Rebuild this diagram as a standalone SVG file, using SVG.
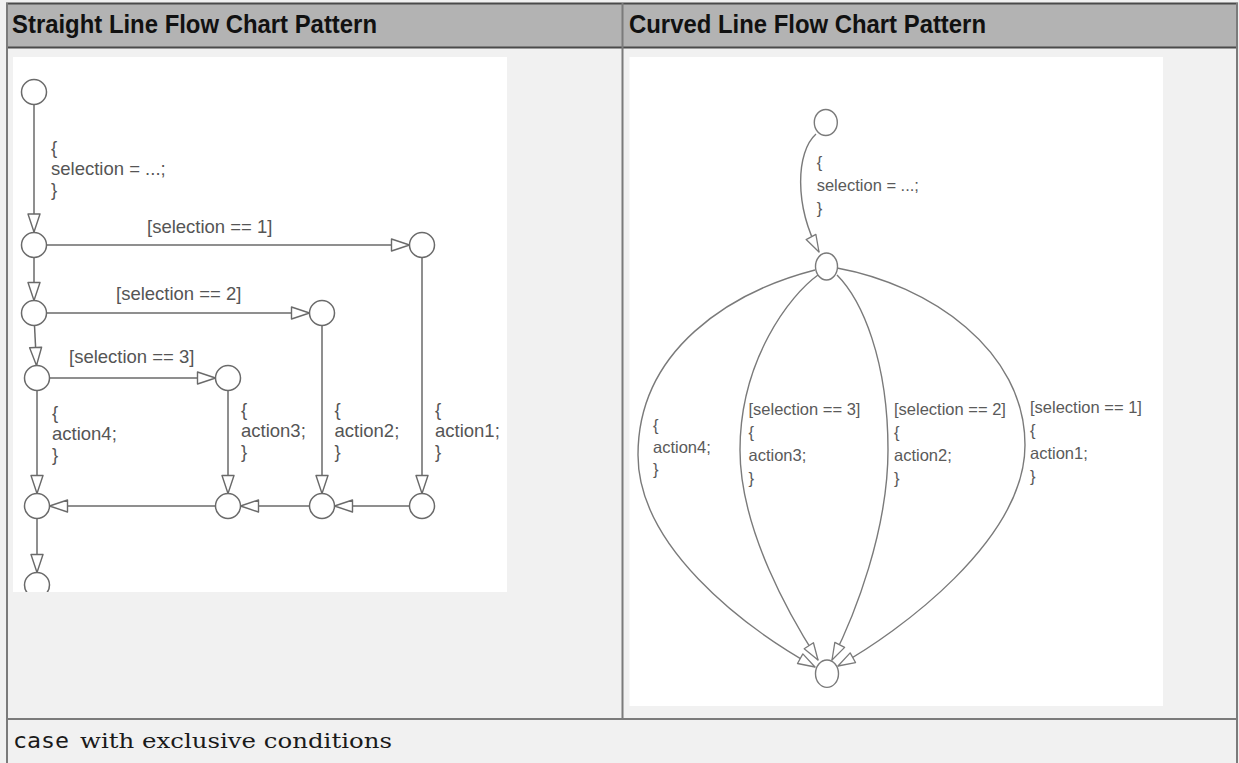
<svg xmlns="http://www.w3.org/2000/svg" width="1239" height="763" viewBox="0 0 1239 763">
<style>
.hdr{font-family:"Liberation Sans",Arial,sans-serif;font-weight:bold;font-size:25px;fill:#111}
.node{fill:#fff;stroke:#6a6a6a;stroke-width:1.5}
.rnode{fill:#fff;stroke:#7a7a7a;stroke-width:1.4}
.edge{fill:none;stroke:#6a6a6a;stroke-width:1.5}
.redge{fill:none;stroke:#7a7a7a;stroke-width:1.4}
.lbl{font-family:"Liberation Sans",Arial,sans-serif;font-size:18.5px;fill:#555}
.rlbl{font-family:"Liberation Sans",Arial,sans-serif;font-size:16.5px;fill:#5a5a5a}
.grid{stroke:#7b7b7b;stroke-width:2;fill:none}
.dark{stroke:#4a4a4a;stroke-width:2;fill:none}
</style>
<defs>
<marker id="arr" markerUnits="userSpaceOnUse" viewBox="-21 -8 23 16" refX="0" refY="0" markerWidth="23" markerHeight="16" orient="auto" overflow="visible">
<path d="M0,0 L-18,-6 L-18,6 Z" fill="#fff" stroke="#6a6a6a" stroke-width="1.4" stroke-linejoin="round"/>
</marker>
<marker id="rarr" markerUnits="userSpaceOnUse" viewBox="-21 -8 23 16" refX="0" refY="0" markerWidth="23" markerHeight="16" orient="auto" overflow="visible">
<path d="M0,0 L-17,-5.5 L-17,5.5 Z" fill="#fff" stroke="#7a7a7a" stroke-width="1.3" stroke-linejoin="round"/>
</marker>
<clipPath id="leftClip"><rect x="13" y="57" width="494" height="535"/></clipPath>
</defs>

<g id="table">
<rect x="0" y="0" width="1239" height="763" fill="#f1f1f1"/>
<rect x="7" y="4" width="1230" height="43" fill="#b3b3b3"/>
<rect x="13" y="57" width="494" height="535" fill="#ffffff"/>
<rect x="629.5" y="57" width="533.5" height="649" fill="#ffffff"/>
<line class="dark" x1="6" y1="3.5" x2="1238" y2="3.5"/>
<line class="dark" x1="6" y1="47.5" x2="1238" y2="47.5"/>
<line class="grid" x1="7" y1="3" x2="7" y2="763"/>
<line class="grid" x1="1237" y1="3" x2="1237" y2="763"/>
<line class="grid" x1="622.5" y1="3" x2="622.5" y2="719"/>
<line class="grid" x1="6" y1="719" x2="1238" y2="719"/>
<text class="hdr" x="12" y="33" textLength="365" lengthAdjust="spacingAndGlyphs">Straight Line Flow Chart Pattern</text>
<text class="hdr" x="629" y="33" textLength="357" lengthAdjust="spacingAndGlyphs">Curved Line Flow Chart Pattern</text>
<text x="13" y="748" font-family="'DejaVu Sans Mono','Liberation Mono',monospace" font-size="21" fill="#1a1a1a" textLength="56" lengthAdjust="spacingAndGlyphs">case</text>
<text x="80" y="748" font-family="'DejaVu Serif','Liberation Serif',serif" font-size="20" fill="#1a1a1a" textLength="312" lengthAdjust="spacingAndGlyphs">with exclusive conditions</text>
</g>

<g id="left-connectors" clip-path="url(#leftClip)">
<path class="edge" d="M34,105 L34,232" marker-end="url(#arr)"/>
<path class="edge" d="M46.5,245 L409.5,245" marker-end="url(#arr)"/>
<path class="edge" d="M34,257.5 L34,300.5" marker-end="url(#arr)"/>
<path class="edge" d="M46.5,313 L309.5,313" marker-end="url(#arr)"/>
<path class="edge" d="M34.5,325.5 L36.5,365.5" marker-end="url(#arr)"/>
<path class="edge" d="M49.5,378 L215.5,378" marker-end="url(#arr)"/>
<path class="edge" d="M37,390.5 L37,493.5" marker-end="url(#arr)"/>
<path class="edge" d="M228,390.5 L228,493.5" marker-end="url(#arr)"/>
<path class="edge" d="M322,325.5 L322,493.5" marker-end="url(#arr)"/>
<path class="edge" d="M422,257.5 L422,493.5" marker-end="url(#arr)"/>
<path class="edge" d="M409.5,506 L334.5,506" marker-end="url(#arr)"/>
<path class="edge" d="M309.5,506 L240.5,506" marker-end="url(#arr)"/>
<path class="edge" d="M215.5,506 L49.5,506" marker-end="url(#arr)"/>
<path class="edge" d="M37,518.5 L37,572.5" marker-end="url(#arr)"/>
</g>

<g id="left-nodes" clip-path="url(#leftClip)">
<g id="L-start"><circle class="node" cx="34" cy="92" r="12.5"/></g>
<g id="L-j1"><circle class="node" cx="34" cy="245" r="12.5"/></g>
<g id="L-j2"><circle class="node" cx="34" cy="313" r="12.5"/></g>
<g id="L-j3"><circle class="node" cx="37" cy="378" r="12.5"/></g>
<g id="L-c1"><circle class="node" cx="422" cy="245" r="12.5"/></g>
<g id="L-c2"><circle class="node" cx="322" cy="313" r="12.5"/></g>
<g id="L-c3"><circle class="node" cx="228" cy="378" r="12.5"/></g>
<g id="L-m1"><circle class="node" cx="422" cy="506" r="12.5"/></g>
<g id="L-m2"><circle class="node" cx="322" cy="506" r="12.5"/></g>
<g id="L-m3"><circle class="node" cx="228" cy="506" r="12.5"/></g>
<g id="L-merge"><circle class="node" cx="37" cy="506" r="12.5"/></g>
<g id="L-end"><circle class="node" cx="37" cy="585" r="12.5"/></g>
</g>

<g id="left-labels">
<text class="lbl"><tspan x="51" y="154">{</tspan><tspan x="51" y="175">selection = ...;</tspan><tspan x="51" y="196">}</tspan></text>
<text class="lbl" x="147" y="233">[selection == 1]</text>
<text class="lbl" x="116" y="299.5">[selection == 2]</text>
<text class="lbl" x="69" y="363">[selection == 3]</text>
<text class="lbl"><tspan x="52" y="419">{</tspan><tspan x="52" y="440">action4;</tspan><tspan x="52" y="461">}</tspan></text>
<text class="lbl"><tspan x="241" y="416">{</tspan><tspan x="241" y="437">action3;</tspan><tspan x="241" y="458">}</tspan></text>
<text class="lbl"><tspan x="334.5" y="416">{</tspan><tspan x="334.5" y="437">action2;</tspan><tspan x="334.5" y="458">}</tspan></text>
<text class="lbl"><tspan x="435" y="416">{</tspan><tspan x="435" y="437">action1;</tspan><tspan x="435" y="458">}</tspan></text>
</g>

<g id="right-connectors">
<path class="redge" d="M816,134 C796,152 794,205 819,252" marker-end="url(#rarr)"/>
<path class="redge" d="M815,270 C730,292 638,350 638,455 C638,545 740,625 815,667" marker-end="url(#rarr)"/>
<path class="redge" d="M818,275 C790,295 740,360 740,450 C740,530 791,618 818,660" marker-end="url(#rarr)"/>
<path class="redge" d="M837,275 C862,300 888,360 888,450 C888,530 855,615 832,660" marker-end="url(#rarr)"/>
<path class="redge" d="M837,268 C930,285 1025,350 1025,445 C1025,540 899,632 838,666" marker-end="url(#rarr)"/>
</g>

<g id="right-nodes">
<g id="R-start"><ellipse class="rnode" cx="825.8" cy="122.5" rx="11.5" ry="13"/></g>
<g id="R-hub"><ellipse class="rnode" cx="826.5" cy="266.5" rx="11" ry="13.5"/></g>
<g id="R-end"><ellipse class="rnode" cx="827" cy="673.7" rx="11.5" ry="13.7"/></g>
</g>

<g id="right-labels">
<text class="rlbl"><tspan x="816.7" y="168">{</tspan><tspan x="816.7" y="191">selection = ...;</tspan><tspan x="816.7" y="214">}</tspan></text>
<text class="rlbl"><tspan x="653" y="431">{</tspan><tspan x="653" y="453">action4;</tspan><tspan x="653" y="475">}</tspan></text>
<text class="rlbl"><tspan x="748.5" y="415">[selection == 3]</tspan><tspan x="748.5" y="438">{</tspan><tspan x="748.5" y="461">action3;</tspan><tspan x="748.5" y="484">}</tspan></text>
<text class="rlbl"><tspan x="894" y="415">[selection == 2]</tspan><tspan x="894" y="438">{</tspan><tspan x="894" y="461">action2;</tspan><tspan x="894" y="484">}</tspan></text>
<text class="rlbl"><tspan x="1030" y="413">[selection == 1]</tspan><tspan x="1030" y="436">{</tspan><tspan x="1030" y="459">action1;</tspan><tspan x="1030" y="482">}</tspan></text>
</g>
</svg>
